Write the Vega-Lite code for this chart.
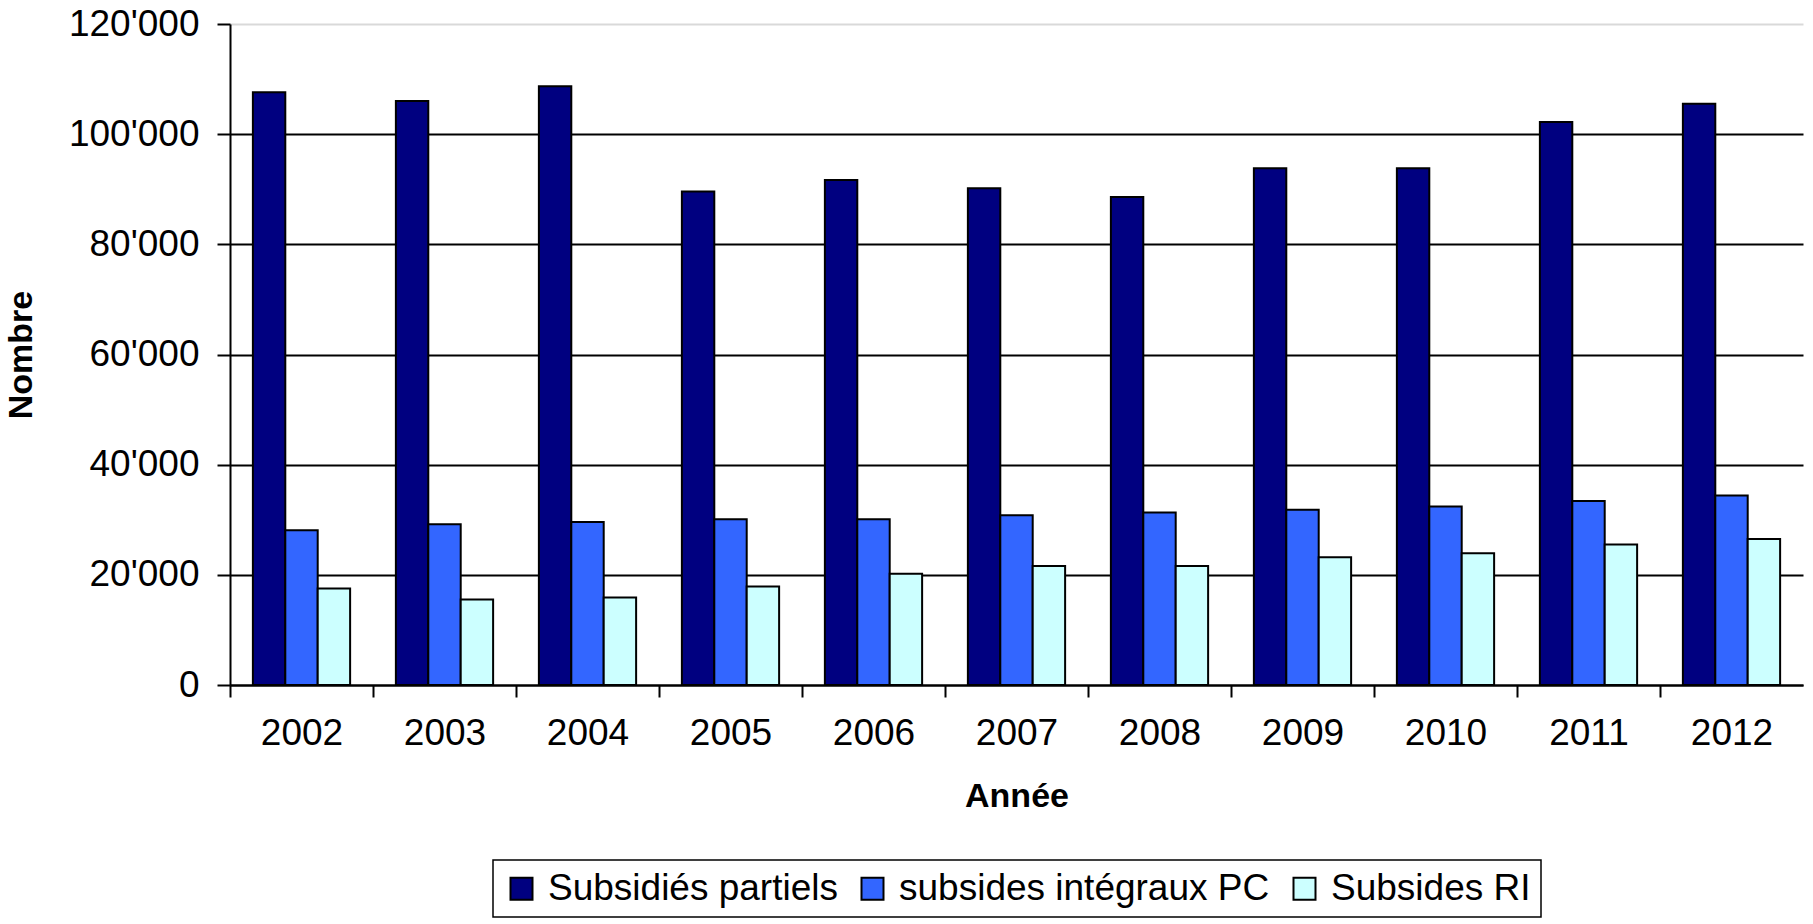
{
  "$schema": "https://vega.github.io/schema/vega-lite/v6.json",
  "width": 1573,
  "height": 661,
  "autosize": "none",
  "padding": {"left": 230, "top": 24, "right": 10, "bottom": 239},
  "background": "white",
  "config": {
    "view": {"stroke": null},
    "font": "Liberation Sans",
    "legend": {"strokeWidth": 1.5}
  },
  "data": {
    "values": [
      {"year": "2002", "series": "Subsidiés partiels", "value": 107600},
      {"year": "2003", "series": "Subsidiés partiels", "value": 106000},
      {"year": "2004", "series": "Subsidiés partiels", "value": 108700},
      {"year": "2005", "series": "Subsidiés partiels", "value": 89600},
      {"year": "2006", "series": "Subsidiés partiels", "value": 91700},
      {"year": "2007", "series": "Subsidiés partiels", "value": 90200},
      {"year": "2008", "series": "Subsidiés partiels", "value": 88600},
      {"year": "2009", "series": "Subsidiés partiels", "value": 93800},
      {"year": "2010", "series": "Subsidiés partiels", "value": 93800},
      {"year": "2011", "series": "Subsidiés partiels", "value": 102200},
      {"year": "2012", "series": "Subsidiés partiels", "value": 105500},
      {"year": "2002", "series": "subsides intégraux PC", "value": 28100},
      {"year": "2003", "series": "subsides intégraux PC", "value": 29200},
      {"year": "2004", "series": "subsides intégraux PC", "value": 29600},
      {"year": "2005", "series": "subsides intégraux PC", "value": 30100},
      {"year": "2006", "series": "subsides intégraux PC", "value": 30100},
      {"year": "2007", "series": "subsides intégraux PC", "value": 30800},
      {"year": "2008", "series": "subsides intégraux PC", "value": 31300},
      {"year": "2009", "series": "subsides intégraux PC", "value": 31800},
      {"year": "2010", "series": "subsides intégraux PC", "value": 32400},
      {"year": "2011", "series": "subsides intégraux PC", "value": 33400},
      {"year": "2012", "series": "subsides intégraux PC", "value": 34400},
      {"year": "2002", "series": "Subsides RI", "value": 17500},
      {"year": "2003", "series": "Subsides RI", "value": 15500},
      {"year": "2004", "series": "Subsides RI", "value": 15900},
      {"year": "2005", "series": "Subsides RI", "value": 17900},
      {"year": "2006", "series": "Subsides RI", "value": 20200},
      {"year": "2007", "series": "Subsides RI", "value": 21600},
      {"year": "2008", "series": "Subsides RI", "value": 21600},
      {"year": "2009", "series": "Subsides RI", "value": 23200},
      {"year": "2010", "series": "Subsides RI", "value": 23900},
      {"year": "2011", "series": "Subsides RI", "value": 25500},
      {"year": "2012", "series": "Subsides RI", "value": 26500}
    ]
  },
  "mark": {"type": "bar", "stroke": "black", "strokeWidth": 2},
  "encoding": {
    "x": {
      "field": "year",
      "type": "nominal",
      "scale": {"paddingInner": 0.32, "paddingOuter": 0.16},
      "axis": {
        "title": "Année",
        "titleFontSize": 34,
        "titleFontWeight": "bold",
        "titleColor": "black",
        "titlePadding": 28,
        "labelFontSize": 37,
        "labelColor": "black",
        "labelAngle": 0,
        "labelPadding": 18,
        "tickOffset": -71.5,
        "labelOffset": 71.5,
        "tickSize": 12,
        "tickColor": "black",
        "tickWidth": 2,
        "domainColor": "black",
        "domainWidth": 2,
        "grid": false
      }
    },
    "xOffset": {
      "field": "series",
      "type": "nominal",
      "sort": ["Subsidiés partiels", "subsides intégraux PC", "Subsides RI"],
      "scale": {"paddingInner": 0, "paddingOuter": 0}
    },
    "y": {
      "field": "value",
      "type": "quantitative",
      "scale": {"domain": [0, 120000], "nice": false},
      "axis": {
        "title": "Nombre",
        "titleFontSize": 34,
        "titleFontWeight": "bold",
        "titleColor": "black",
        "titlePadding": 30,
        "values": [0, 20000, 40000, 60000, 80000, 100000, 120000],
        "labelExpr": "replace(format(datum.value, ','), ',', \"'\")",
        "labelFontSize": 37,
        "labelColor": "black",
        "labelPadding": 18,
        "tickSize": 13,
        "tickColor": "black",
        "tickWidth": 2,
        "domainColor": "black",
        "domainWidth": 2,
        "grid": true,
        "gridColor": {"condition": {"test": "datum.value === 120000", "value": "#d9d9d9"}, "value": "black"},
        "gridWidth": 2
      }
    },
    "color": {
      "field": "series",
      "type": "nominal",
      "sort": ["Subsidiés partiels", "subsides intégraux PC", "Subsides RI"],
      "scale": {
        "domain": ["Subsidiés partiels", "subsides intégraux PC", "Subsides RI"],
        "range": ["#000080", "#3366FF", "#CCFFFF"]
      },
      "legend": {
        "orient": "none",
        "legendX": 263,
        "legendY": 836,
        "direction": "horizontal",
        "title": null,
        "labelFontSize": 37,
        "labelColor": "black",
        "labelLimit": 0,
        "symbolType": "square",
        "symbolSize": 484,
        "symbolStrokeColor": "black",
        "symbolStrokeWidth": 2,
        "labelOffset": 8,
        "columnPadding": 16,
        "padding": 10,
        "strokeColor": "black"
      }
    }
  }
}
